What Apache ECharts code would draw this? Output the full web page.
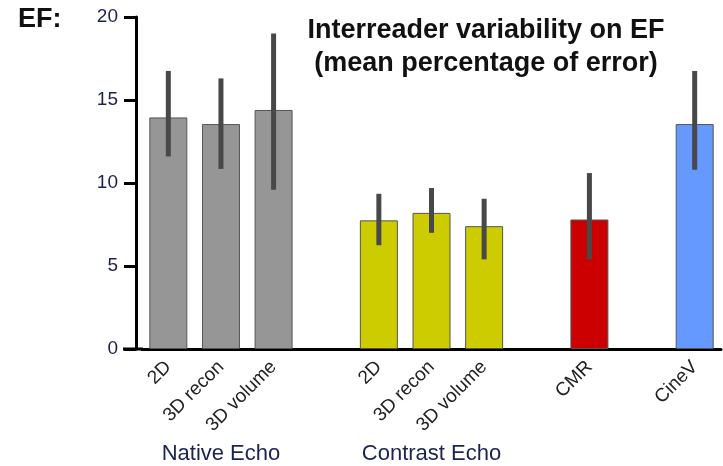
<!DOCTYPE html>
<html>
<head>
<meta charset="utf-8">
<style>
  html,body{margin:0;padding:0;background:#fff;}
  #chart{width:723px;height:466px;}
</style>
<script src="https://cdn.jsdelivr.net/npm/echarts@6/dist/echarts.min.js"></script>
</head>
<body>
<div id="chart"></div>
<script>
  // categories (empty slots are the gaps between groups)
  var categories = ['2D', '3D recon', '3D volume', '', '2D', '3D recon', '3D volume', '', 'CMR', '', 'CineV'];
  var groupLabels = ['', 'Native Echo', '', '', '', 'Contrast Echo', '', '', '', '', ''];
  var means = [13.95, 13.55, 14.4, null, 7.75, 8.2, 7.4, null, 7.8, null, 13.55];
  var errHigh = [16.75, 16.3, 19.0, null, 9.35, 9.7, 9.05, null, 10.6, null, 16.75];
  var errLow = [11.6, 10.85, 9.6, null, 6.25, 7.0, 5.4, null, 5.4, null, 10.8];
  var barColors = ['#969696', '#969696', '#969696', null, '#cccc00', '#cccc00', '#cccc00', null, '#cc0000', null, '#6699ff'];
  var yTicks = [0, 5, 10, 15, 20];

  var font = 'Liberation Sans, Arial, sans-serif';
  var myChart = echarts.init(document.getElementById('chart'));

  var barData = means.map(function (v, i) {
    return v == null ? null : { value: v, itemStyle: { color: barColors[i] } };
  });
  var errData = [];
  for (var i = 0; i < categories.length; i++) {
    if (errHigh[i] != null) errData.push([i, errLow[i], errHigh[i]]);
  }

  myChart.setOption({
    animation: false,
    grid: { left: 142, right: 2, top: 17, bottom: 117 },
    xAxis: [{
      type: 'category',
      data: categories,
      axisLine: { lineStyle: { color: '#000', width: 3 } },
      axisTick: { show: false },
      axisLabel: {
        interval: 0, rotate: 45, margin: 15,
        fontSize: 19, color: '#222', fontFamily: font
      }
    }, {
      type: 'category',
      data: groupLabels,
      position: 'bottom',
      axisLine: { show: false },
      axisTick: { show: false },
      axisLabel: { interval: 0, margin: 94, fontSize: 22, color: '#1a2450', fontFamily: font }
    }],
    yAxis: {
      type: 'value',
      min: yTicks[0], max: yTicks[yTicks.length - 1], interval: 5,
      offset: 6,
      splitLine: { show: false },
      axisLine: { show: true, lineStyle: { color: '#000', width: 3 } },
      axisTick: { show: true, length: 12, lineStyle: { color: '#000', width: 3 } },
      axisLabel: { margin: 18, fontSize: 19, color: '#1e2050', fontFamily: font }
    },
    graphic: [
      // baseline runs out to the tick length on the left
      { type: 'line', shape: { x1: 123, y1: 349, x2: 143, y2: 349 }, style: { stroke: '#000', lineWidth: 3 } },
      { type: 'text', x: 18, y: 20, style: { text: 'EF:', font: 'bold 27px ' + font, fill: '#111', textVerticalAlign: 'middle' } },
      { type: 'text', x: 486, y: 31, style: { text: 'Interreader variability on EF', font: 'bold 27px ' + font, fill: '#111', textAlign: 'center', textVerticalAlign: 'middle' } },
      { type: 'text', x: 486, y: 64, style: { text: '(mean percentage of error)', font: 'bold 27px ' + font, fill: '#111', textAlign: 'center', textVerticalAlign: 'middle' } }
    ],
    series: [{
      type: 'bar',
      data: barData,
      barWidth: 38,
      itemStyle: { borderColor: '#555', borderWidth: 1 }
    }, {
      type: 'custom',
      data: errData,
      z: 5,
      renderItem: function (params, api) {
        var x = api.value(0);
        var lo = api.coord([x, api.value(1)]);
        var hi = api.coord([x, api.value(2)]);
        return {
          type: 'line',
          shape: { x1: lo[0], y1: lo[1], x2: hi[0], y2: hi[1] },
          style: { stroke: '#484848', lineWidth: 5 }
        };
      }
    }]
  });
</script>
</body>
</html>
